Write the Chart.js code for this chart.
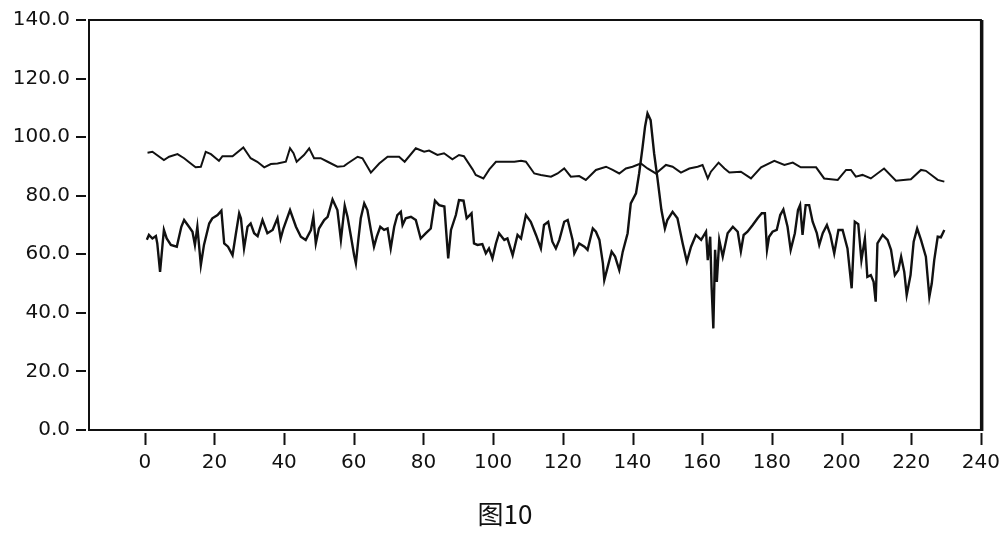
<!DOCTYPE html>
<html>
<head>
<meta charset="utf-8">
<script src="https://cdn.jsdelivr.net/npm/chart.js@4"></script>
<style>
    html, body { margin: 0; padding: 0; background: #fff; }
    #wrap { position: relative; width: 1006px; height: 534px; }
    #caption {
        position: absolute; left: 0; top: 494px; width: 1010px;
        text-align: center; font: 26px "Noto Sans CJK SC", sans-serif; color: #111;
    }
</style>
</head>
<body>
<div id="wrap">
    <canvas id="chart" width="1006" height="534"></canvas>
    <div id="caption">图10</div>
</div>
<script>
// === 图10: два ряди, верхній стабільний ~90, нижній шумний ~65 ===
const xTicks = [0, 20, 40, 60, 80, 100, 120, 140, 160, 180, 200, 220, 240];
const yTicks = [0, 20, 40, 60, 80, 100, 120, 140];

const upperX = [0.8, 2.2, 5.5, 7, 9.4, 11.3, 13.2, 14.6, 16.1, 17.5, 19, 20.4, 21.3, 22.3, 25.2, 28.3, 30.4, 32.3, 34.3, 36.2,
    38.1, 40.5, 41.7, 42.7, 43.6, 45.7, 47.2, 48.6, 50.5, 52.5, 55.3, 57.2, 58.2, 61.1, 62.5, 64.9, 67.3, 69.7, 73.0, 74.6,
    77.8, 80.2, 81.6, 84.0, 85.9, 88.3, 90.2, 91.6, 94.1, 95.0, 97.2, 98.9, 100.8, 103.2, 106.1, 108.0, 109.4, 111.8, 113.7, 116.6,
    118.5, 120.4, 122.3, 124.7, 126.6, 129.5, 132.4, 134.3, 136.2, 138.1, 140.0, 142.4, 144.3, 146.7, 149.6, 151.5, 153.9, 156.3, 158.7, 160.1,
    161.6, 162.5, 164.7, 166.4, 167.8, 171.1, 174.0, 176.9, 180.7, 183.6, 186.0, 188.3, 192.7, 195.0, 198.9, 201.3, 202.7, 204.1, 206.0, 208.4,
    212.2, 215.6, 219.9, 222.8, 224.2, 227.6, 229.5];
const upperY = [94.7, 95.0, 92.2, 93.3, 94.2, 92.8, 91.0, 89.7, 89.9, 95.0, 94.2, 92.8, 91.9, 93.5, 93.5, 96.5, 92.8, 91.6, 89.7, 90.8,
    91.0, 91.6, 96.2, 94.5, 91.6, 93.9, 96.2, 92.8, 92.8, 91.6, 89.9, 90.1, 91.0, 93.3, 92.8, 87.9, 91.0, 93.3, 93.3, 91.6,
    96.2, 95.0, 95.4, 93.9, 94.5, 92.4, 93.9, 93.5, 89.0, 87.1, 85.9, 89.0, 91.6, 91.6, 91.6, 91.9, 91.6, 87.6, 87.1, 86.5,
    87.6, 89.3, 86.5, 86.7, 85.4, 88.8, 89.9, 88.8, 87.6, 89.3, 89.9, 91.0, 89.3, 87.6, 90.5, 89.9, 87.9, 89.3, 89.9, 90.5,
    85.9, 88.2, 91.3, 89.3, 87.9, 88.2, 85.9, 89.7, 91.9, 90.5, 91.3, 89.7, 89.7, 85.9, 85.4, 88.8, 88.8, 86.5, 87.1, 85.9,
    89.3, 85.1, 85.6, 88.8, 88.5, 85.4, 84.8];

const lowerX = [0.6, 1.2, 2.2, 3.2, 3.6, 4.4, 5.1, 5.5, 6.3, 7.5, 9.2, 10.5, 11.3, 12.7, 13.7, 14.4, 15.1, 16.1, 17.0, 18.5,
    19.4, 20.9, 22.0, 22.8, 23.9, 25.2, 26.1, 27.1, 27.6, 28.5, 29.5, 30.4, 31.4, 32.4, 33.8, 35.2, 36.7, 38.1, 39.0, 39.8,
    41.7, 43.4, 44.8, 46.2, 47.7, 48.4, 49.1, 50.0, 51.5, 52.5, 53.9, 55.3, 56.3, 57.4, 58.2, 59.2, 60.1, 60.6, 61.3, 62.0,
    63.0, 63.9, 64.9, 65.8, 66.6, 67.6, 68.7, 69.7, 70.6, 71.6, 72.5, 73.5, 74.0, 74.9, 76.4, 77.8, 79.2, 80.7, 82.1, 83.3,
    84.5, 86.0, 87.1, 87.9, 89.3, 90.2, 91.5, 92.4, 93.8, 94.5, 95.5, 96.9, 97.9, 98.8, 99.8, 100.8, 101.7, 103.2, 104.1, 105.6,
    107.0, 108.0, 109.4, 110.8, 112.3, 113.7, 114.6, 115.8, 117.0, 118.0, 119.0, 120.4, 121.4, 122.8, 123.3, 124.7, 126.2, 127.1, 128.6, 129.5,
    130.5, 131.5, 131.9, 132.9, 134.0, 135.0, 136.2, 137.2, 138.6, 139.5, 141.0, 141.9, 142.9, 143.6, 144.3, 145.2, 146.2, 147.1, 148.3, 149.3,
    150.0, 151.5, 152.9, 154.4, 155.6, 156.8, 158.2, 159.7, 161.1, 161.6, 162.3, 162.7, 163.2, 163.7, 164.2, 164.9, 165.9, 167.3, 168.8, 170.2,
    171.1, 171.9, 173.0, 174.5, 175.9, 177.1, 178.0, 178.6, 179.2, 180.2, 181.4, 182.4, 183.3, 184.5, 185.4, 186.6, 187.5, 188.1, 188.8, 189.7,
    190.7, 191.7, 192.9, 193.6, 194.6, 195.8, 196.8, 197.9, 199.1, 200.3, 201.7, 202.9, 203.8, 204.8, 205.7, 206.7, 207.4, 208.4, 209.2, 209.8,
    210.3, 211.8, 213.2, 214.2, 215.3, 216.3, 217.1, 218.0, 218.7, 219.8, 220.7, 221.7, 222.8, 224.2, 225.2, 225.9, 226.6, 227.6, 228.5, 229.5];
const lowerY = [65.0, 66.6, 65.4, 66.2, 63.7, 54.0, 63.2, 68.3, 65.4, 63.2, 62.6, 69.4, 71.7, 69.4, 67.7, 63.2, 69.4, 56.3, 63.2, 70.5,
    72.3, 73.4, 74.9, 63.7, 62.6, 59.7, 66.6, 74.0, 72.3, 62.0, 69.4, 70.5, 67.2, 66.2, 71.7, 67.2, 68.3, 72.3, 65.4, 68.8,
    75.1, 69.4, 66.0, 64.9, 68.3, 72.8, 63.7, 68.8, 71.7, 72.8, 78.7, 75.1, 64.9, 76.6, 72.8, 66.0, 59.7, 56.9, 64.9, 72.3,
    77.4, 75.1, 68.3, 62.6, 66.0, 69.4, 68.3, 68.8, 62.0, 69.4, 73.4, 74.5, 70.0, 72.3, 72.8, 71.7, 65.4, 67.2, 68.8, 78.3,
    76.8, 76.3, 58.6, 68.3, 73.4, 78.5, 78.3, 72.3, 74.0, 63.7, 63.2, 63.5, 60.3, 62.0, 58.6, 63.7, 67.2, 64.9, 65.4, 59.7,
    66.6, 65.4, 73.4, 71.1, 66.6, 62.0, 70.0, 71.1, 64.3, 62.0, 64.9, 71.1, 71.7, 64.9, 60.3, 63.7, 62.6, 61.5, 68.8, 67.7,
    64.9, 56.9, 51.2, 55.8, 60.9, 59.2, 54.6, 60.9, 67.2, 77.4, 80.8, 87.6, 96.7, 103.6, 108.1, 105.8, 94.5, 86.5, 75.1, 68.8,
    71.7, 74.5, 72.3, 63.7, 57.5, 62.6, 66.6, 64.9, 67.7, 58.0, 66.0, 48.9, 34.7, 61.5, 50.6, 64.9, 59.2, 67.2, 69.4, 67.7,
    61.0, 66.6, 67.7, 70.0, 72.3, 74.0, 74.0, 61.5, 66.0, 67.7, 68.3, 73.4, 75.3, 69.4, 61.5, 67.2, 75.1, 76.8, 66.6, 76.8,
    76.8, 71.1, 67.2, 63.2, 67.2, 70.0, 66.6, 60.3, 68.3, 68.3, 62.0, 48.4, 71.1, 70.3, 58.0, 65.4, 52.3, 52.9, 50.6, 43.8,
    63.7, 66.6, 64.9, 61.5, 52.9, 54.6, 59.2, 54.0, 46.1, 52.9, 64.3, 68.8, 64.9, 59.2, 45.5, 50.1, 58.0, 66.0, 65.8, 68.3];

const toPoints = (xs, ys) => xs.map((x, i) => ({ x, y: ys[i] }));

const FONT = { family: '"DejaVu Sans", sans-serif', size: 20 };
const INK = '#111';

// рамка навколо області графіка + відірвані від осей риски
const framePlugin = {
    id: 'frame',
    afterDraw(chart) {
        const { ctx, chartArea: a, scales } = chart;
        ctx.save();
        ctx.strokeStyle = INK;
        ctx.lineWidth = 2;
        ctx.strokeRect(a.left, a.top, a.right - a.left, a.bottom - a.top);
        ctx.lineWidth = 3;
        ctx.beginPath();
        ctx.moveTo(a.right + 1, a.top);
        ctx.lineTo(a.right + 1, a.bottom + 1);
        ctx.stroke();

        ctx.lineWidth = 2;
        ctx.beginPath();
        xTicks.forEach((v) => {
            const px = Math.round(scales.x.getPixelForValue(v)) + 0.5;
            ctx.moveTo(px, a.bottom + 3);
            ctx.lineTo(px, a.bottom + 15);
        });
        yTicks.forEach((v) => {
            const py = Math.round(scales.y.getPixelForValue(v));
            ctx.moveTo(a.left - 3, py);
            ctx.lineTo(a.left - 13, py);
        });
        ctx.stroke();
        ctx.restore();
    },
};

new Chart(document.getElementById('chart'), {
    type: 'line',
    data: {
        datasets: [
            {
                data: toPoints(upperX, upperY),
                borderColor: INK,
                borderWidth: 2,
                pointRadius: 0,
                tension: 0,
            },
            {
                data: toPoints(lowerX, lowerY),
                borderColor: INK,
                borderWidth: 2.4,
                pointRadius: 0,
                tension: 0,
            },
        ],
    },
    options: {
        responsive: false,
        animation: false,
        layout: { padding: { top: 20, right: 23, bottom: 0, left: 0 } },
        plugins: { legend: { display: false }, tooltip: { enabled: false } },
        scales: {
            x: {
                type: 'linear',
                min: -16,
                max: 240,
                afterBuildTicks: (axis) => { axis.ticks = xTicks.map((v) => ({ value: v })); },
                afterFit: (axis) => { axis.height = 104; },
                ticks: { color: INK, font: FONT, padding: 6, maxRotation: 0, autoSkip: false },
                grid: { drawOnChartArea: false, tickLength: 15, tickColor: 'rgba(0,0,0,0)' },
                border: { display: false },
            },
            y: {
                min: 0,
                max: 140,
                afterBuildTicks: (axis) => { axis.ticks = yTicks.map((v) => ({ value: v })); },
                afterFit: (axis) => { axis.width = 89; },
                ticks: {
                    color: INK,
                    font: FONT,
                    padding: 6,
                    autoSkip: false,
                    callback: (v) => Number(v).toFixed(1),
                },
                grid: { drawOnChartArea: false, tickLength: 13, tickColor: 'rgba(0,0,0,0)' },
                border: { display: false },
            },
        },
    },
    plugins: [framePlugin],
});
</script>
</body>
</html>
